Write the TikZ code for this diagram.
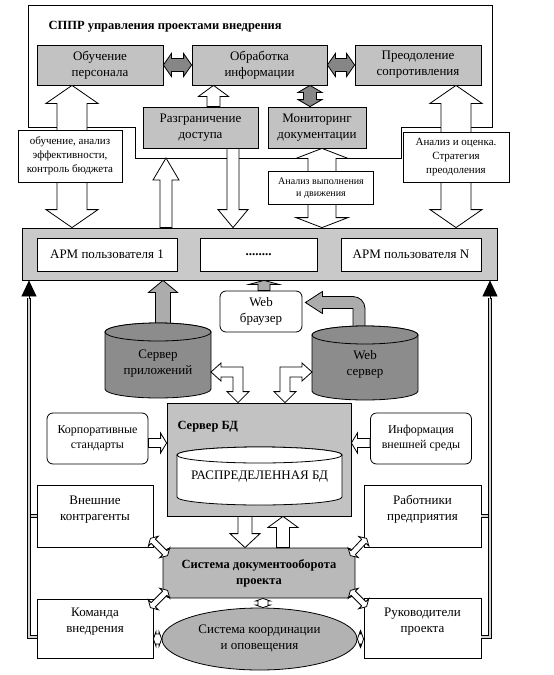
\documentclass[tikz,border=0pt]{standalone}
\usepackage{fontspec}
\setmainfont{Liberation Serif}
\usetikzlibrary{calc,positioning,shapes.geometric,arrows.meta}

\tikzset{
  sppr/.style={draw, line width=0.8pt},
  gbox/.style={draw, line width=0.8pt, fill=gray!48, align=center, inner sep=1pt,
    font=\fontsize{13}{16}\selectfont},
  wbox/.style={gbox, fill=white},
  rbox/.style={wbox, rounded corners=6pt},
  note/.style={wbox, font=\fontsize{11}{14}\selectfont},
  hollow/.style={draw, fill=white, line width=0.8pt},
  grayar/.style={draw, fill=gray!65, line width=0.8pt},
  darkar/.style={draw, fill=gray!95, line width=0.8pt},
  cylg/.style={draw, fill=gray!90, line width=0.8pt},
  bus/.style={double=gray!35, double distance=2.4pt, line width=0.7pt},
  txt/.style={align=center, font=\fontsize{13}{16}\selectfont},
}

% толстая стрелка: хвост, острие, полуширина, полуширина головки, длина головки
\newcommand{\fatarrow}[6][hollow]{%
  \coordinate (fh) at ($(#3)!#6!(#2)$);
  \draw[#1] ($(#2)!#4!90:(#3)$) -- ($(fh)!#4!90:(#3)$) -- ($(fh)!#5!90:(#3)$) -- (#3)
    -- ($(fh)!#5!-90:(#3)$) -- ($(fh)!#4!-90:(#3)$) -- ($(#2)!#4!-90:(#3)$) -- cycle;}
% то же, с двумя головками
\newcommand{\fatdarrow}[6][hollow]{%
  \coordinate (fh) at ($(#3)!#6!(#2)$);
  \coordinate (fg) at ($(#2)!#6!(#3)$);
  \draw[#1] (#2) -- ($(fg)!#5!90:(#3)$) -- ($(fg)!#4!90:(#3)$) -- ($(fh)!#4!90:(#3)$)
    -- ($(fh)!#5!90:(#3)$) -- (#3) -- ($(fh)!#5!-90:(#3)$) -- ($(fh)!#4!-90:(#3)$)
    -- ($(fg)!#4!-90:(#3)$) -- ($(fg)!#5!-90:(#3)$) -- cycle;}
% Г-образная двойная стрелка: горизонтальное острие, нижнее острие, сторона
\newcommand{\lfat}[3]{%
  \draw[hollow] let \p1=(#1), \p2=(#2) in
    (\p1) -- (\x1+10*#3,\y1+9) -- (\x1+10*#3,\y1+5) -- (\x2+5*#3,\y1+5)
    -- (\x2+5*#3,\y2+11) -- (\x2+11*#3,\y2+11) -- (\p2) -- (\x2-11*#3,\y2+11)
    -- (\x2-5*#3,\y2+11) -- (\x2-5*#3,\y1-5) -- (\x1+10*#3,\y1-5)
    -- (\x1+10*#3,\y1-9) -- cycle;}
% цилиндр: центр верхнего эллипса, радиусы, высота
\newcommand{\cylshape}[5][cylg]{%
  \draw[#1] ($(#2)+(-#3,0)$) -- ++(0,-#5)
    arc[start angle=180, end angle=360, x radius=#3, y radius=#4] -- ++(0,#5)
    arc[start angle=0, end angle=180, x radius=#3, y radius=#4] -- cycle;
  \draw[#1] (#2) ellipse [x radius=#3, y radius=#4];}

\begin{document}
\begin{tikzpicture}[x=1pt, y=1pt]
  \useasboundingbox (0,0) rectangle (554,-675);

  % Контур СППР.
  \draw[sppr] (28,-5) -- (492,-5) -- (492,-127) -- (401,-127) -- (401,-158)
    -- (135,-158) -- (135,-127) -- (28,-127) -- cycle;
  \coordinate (spprb) at (166,-158);
  \node[anchor=west, font=\bfseries\fontsize{12.5}{15}\selectfont] (title) at (45,-27)
    {СППР управления проектами внедрения};

  % Блоки СППР.
  \node[gbox, minimum width=126pt, minimum height=40pt] (obuch) at (100,-65) {Обучение\\персонала};
  \node[gbox, minimum width=135pt, minimum height=40pt] (obrab) at (259.5,-65) {Обработка\\информации};
  \node[gbox, minimum width=126pt, minimum height=40pt] (preod) at (418,-65) {Преодоление\\сопротивления};
  \node[gbox, minimum width=115pt, minimum height=41pt] (razgr) at (200.5,-127.5) {Разграничение\\доступа};
  \node[gbox, minimum width=98pt, minimum height=41pt] (monit) at (317,-127.5) {Мониторинг\\документации};

  % АРМ пользователей.
  \node[gbox, fill=gray!42, minimum width=475pt, minimum height=52pt] (bar) at (259.5,-254) {};
  \node[wbox, minimum width=140pt, minimum height=33pt] (apm1) at (107,-254.5) {АРМ пользователя 1};
  \node[wbox, minimum width=117pt, minimum height=33pt] (dots) at (258.5,-254.5) {\textbf{........}};
  \node[wbox, minimum width=140pt, minimum height=33pt] (apmn) at (411,-254.5) {АРМ пользователя N};

  \node[rbox, minimum width=82pt, minimum height=41pt] (browser) at (261,-311.5) {Web\\браузер};

  % Сервер БД и окружение.
  \node[gbox, minimum width=184pt, minimum height=113pt] (dbsrv) at (259,-459.5) {};
  \node[anchor=west, font=\bfseries\fontsize{12.5}{15}\selectfont] (dblabel) at (174,-427) {Сервер БД};
  \node[rbox, font=\fontsize{12}{15}\selectfont, minimum width=101pt, minimum height=51pt]
    (korp) at (97.5,-438.5) {Корпоративные\\стандарты};
  \node[rbox, font=\fontsize{12}{15}\selectfont, minimum width=101pt, minimum height=51pt]
    (inform) at (421,-438.5) {Информация\\внешней среды};
  \node[wbox, minimum width=116pt, minimum height=62pt] (kontr) at (95,-516) {Внешние\\контрагенты\\\mbox{}};
  \node[wbox, minimum width=117pt, minimum height=62pt] (rabot) at (422.5,-516) {Работники\\предприятия\\\mbox{}};
  \node[gbox, fill=gray!55, rounded corners=8pt, font=\bfseries\fontsize{12.5}{16}\selectfont,
    minimum width=192pt, minimum height=50pt] (docsys) at (259,-573) {Система документооборота\\проекта};
  \node[wbox, minimum width=116pt, minimum height=59pt] (koman) at (95,-628.5) {Команда\\внедрения\\\mbox{}};
  \node[wbox, minimum width=117pt, minimum height=60pt] (rukov) at (422.5,-628) {Руководители\\проекта\\\mbox{}};
  \node[gbox, ellipse, fill=gray!60, minimum width=195pt, minimum height=62pt]
    (coord) at (259.5,-639) {Система координации\\и оповещения};

  % Распределенная БД.
  \coordinate (rdbc) at (259.5,-455);
  \cylshape[hollow]{rdbc}{82.5pt}{8pt}{42pt}
  \node[txt] (rdb) at (259.5,-477) {РАСПРЕДЕЛЕННАЯ БД};

  % Связи внутри СППР.
  \fatdarrow[darkar]{obuch.east}{obrab.west}{6.5pt}{11.5pt}{8pt}
  \fatdarrow[darkar]{obrab.east}{preod.west}{6.5pt}{11.5pt}{8pt}
  \coordinate (mon1) at ($(monit.north)+(-7,0)$);
  \fatdarrow[darkar]{mon1}{mon1 |- obrab.south}{6.5pt}{12pt}{7pt}
  \coordinate (raz1) at ($(razgr.north)+(13,0)$);
  \fatarrow{raz1}{raz1 |- obrab.south}{6.5pt}{15pt}{11pt}

  % Связи СППР и АРМ.
  \coordinate (lt) at ($(obuch.south)+(-28,0)$);
  \fatdarrow{lt}{lt |- bar.north}{15pt}{26pt}{18pt}
  \coordinate (rt) at ($(preod.south)+(38,0)$);
  \fatdarrow{rt}{rt |- bar.north}{15pt}{26pt}{18pt}
  \coordinate (mt) at ($(monit.south)+(5,0)$);
  \fatdarrow{mt}{mt |- bar.north}{14pt}{26pt}{10pt}
  \fatarrow{spprb |- bar.north}{spprb}{6pt}{13pt}{22pt}
  \coordinate (raz2) at ($(razgr.south)+(32.5,0)$);
  \fatarrow{raz2}{raz2 |- bar.north}{6pt}{15pt}{18pt}

  \node[note, minimum width=104pt, minimum height=52pt] (noteL) at (70,-156)
    {обучение, анализ\\эффективности,\\контроль бюджета};
  \node[note, minimum width=106pt, minimum height=50pt] (noteR) at (456,-157)
    {Анализ и оценка.\\Стратегия\\преодоления};
  \node[note, font=\fontsize{10}{12.5}\selectfont, minimum width=105pt, minimum height=33pt]
    (noteM) at (321,-188) {Анализ выполнения\\и движения};

  % Серверы.
  \coordinate (appc) at (158,-332);
  \coordinate (wsc) at (365,-335);
  \coordinate (apptop) at (163,-334);
  \fatarrow[grayar]{apptop}{apptop |- bar.south}{7.5pt}{14.5pt}{12pt}
  \coordinate (brw1) at ($(browser.north)+(3,0)$);
  \fatarrow[grayar]{brw1}{brw1 |- bar.south}{6pt}{15pt}{4pt}
  \coordinate (wstop) at (359,-337);
  \coordinate (brtip) at ($(browser.east)+(3,9)$);
  \draw[grayar] let \p1=(wstop), \p2=(brtip) in
    (\x1-6,\y1) -- (\x1-6,\y2-6) -- (\x2+17,\y2-6) -- (\x2+17,\y2-11) -- (\p2)
    -- (\x2+17,\y2+11) -- (\x2+17,\y2+6) -- (\x1-6,\y2+6)
    arc[start angle=90, end angle=0, radius=12pt] -- (\x1+6,\y1) -- cycle;
  \cylshape{appc}{53pt}{9pt}{57pt}
  \cylshape{wsc}{53pt}{9pt}{56pt}
  \node[txt] (appsrv) at (158,-364) {Сервер\\приложений};
  \node[txt] (websrv) at (365,-364) {Web\\сервер};

  \coordinate (appe) at (211,-372);
  \coordinate (wse) at (312,-372);
  \coordinate (db1) at ($(dbsrv.north)+(-21,0)$);
  \coordinate (db2) at ($(dbsrv.north)+(26,0)$);
  \lfat{appe}{db1}{1}
  \lfat{wse}{db2}{-1}

  % Стандарты и внешняя среда.
  \coordinate (ka) at ($(korp.east)+(0,-4.5)$);
  \fatarrow{ka}{ka -| dbsrv.west}{4.5pt}{10pt}{6pt}
  \coordinate (ia) at ($(inform.west)+(0,-4.5)$);
  \fatarrow{ia}{ia -| dbsrv.east}{4.5pt}{10pt}{6pt}

  % БД и документооборот.
  \coordinate (dd1) at ($(dbsrv.south)+(-14,0)$);
  \fatarrow{dd1}{dd1 |- docsys.north}{7pt}{15pt}{14pt}
  \coordinate (dd2) at ($(docsys.north)+(24,0)$);
  \fatarrow{dd2}{dd2 |- dbsrv.south}{6.5pt}{15pt}{11pt}

  % Связи с участниками.
  \coordinate (c1a) at ($(kontr.south east)+(-3,9)$);
  \coordinate (c1b) at ($(docsys.north west)+(5,-8)$);
  \coordinate (c2a) at ($(koman.north east)+(-3,-9)$);
  \coordinate (c2b) at ($(docsys.south west)+(5,8)$);
  \coordinate (c3a) at ($(rabot.south west)+(3,9)$);
  \coordinate (c3b) at ($(docsys.north east)+(-5,-8)$);
  \coordinate (c4a) at ($(rukov.north west)+(3,-9)$);
  \coordinate (c4b) at ($(docsys.south east)+(-5,8)$);
  \fatdarrow{c1a}{c1b}{3pt}{7pt}{4pt}
  \fatdarrow{c2a}{c2b}{3pt}{7pt}{4pt}
  \fatdarrow{c3a}{c3b}{3pt}{7pt}{4pt}
  \fatdarrow{c4a}{c4b}{3pt}{7pt}{4pt}
  \coordinate (s1) at ($(docsys.south)+(4,0)$);
  \fatdarrow{s1}{s1 |- coord.north}{5pt}{7pt}{2.5pt}
  \fatdarrow{coord.west}{coord.west -| koman.east}{5pt}{7pt}{2.5pt}
  \fatdarrow{coord.east}{coord.east -| rukov.west}{5pt}{7pt}{2.5pt}

  % Обратная связь к АРМ.
  \coordinate (lbus) at (29,-637);
  \coordinate (rbus) at (490,-637);
  \draw[bus] (kontr.west) -- (kontr.west -| lbus);
  \draw[bus] (koman.west |- lbus) -- (lbus) -- (lbus |- 0,-298);
  \draw[bus] (rabot.east) -- (rabot.east -| rbus);
  \draw[bus] (rukov.east |- rbus) -- (rbus) -- (rbus |- 0,-298);
  \draw[-{Triangle[length=16pt,width=15pt]}, line width=0.8pt] (lbus |- 0,-299) -- (lbus |- bar.south);
  \draw[-{Triangle[length=16pt,width=15pt]}, line width=0.8pt] (rbus |- 0,-299) -- (rbus |- bar.south);
\end{tikzpicture}
\end{document}
